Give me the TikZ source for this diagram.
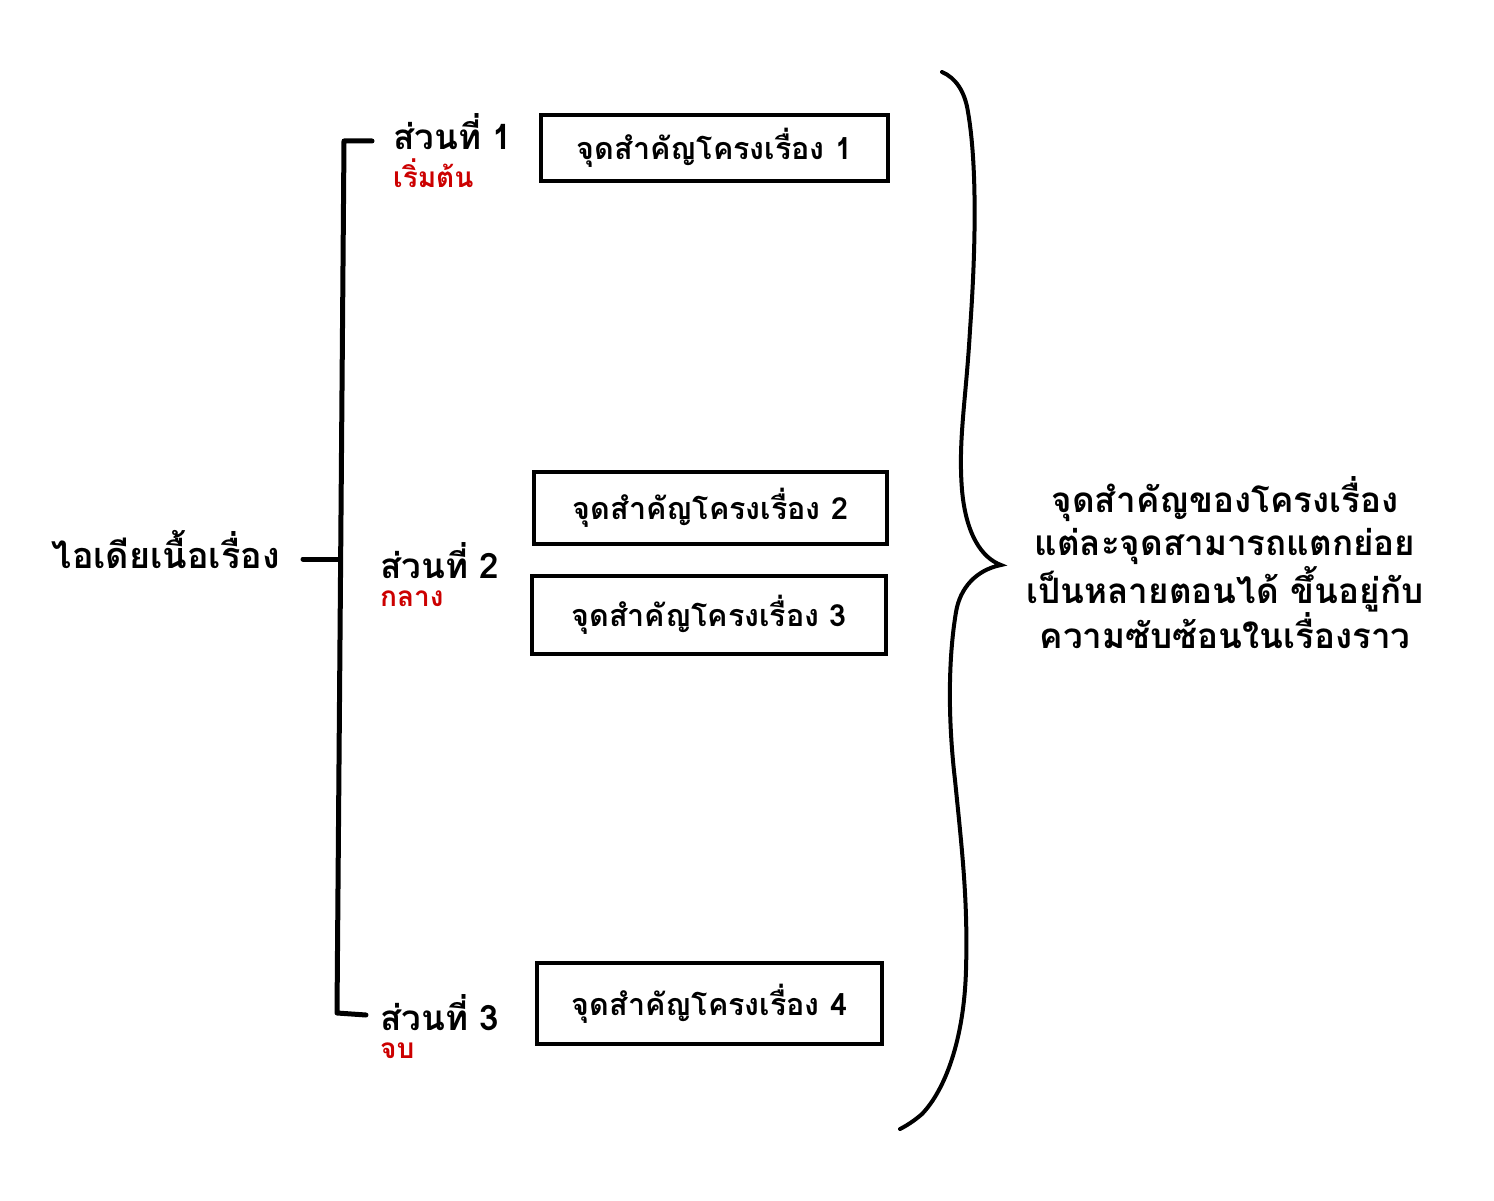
\documentclass[tikz,border=0pt]{standalone}
\usepackage{fontspec}
\setmainfont[Script=Thai]{Loma}
\usepackage{tikz}
\usetikzlibrary{calc,positioning}
\definecolor{rodfarg}{RGB}{204,0,0}
\tikzset{
    ruta/.style={
           rectangle,
           draw=black, line width=4pt,
           minimum width=347pt,
           minimum height=66pt,
           inner sep=0pt,
           font=\bfseries\fontsize{30.5}{36}\selectfont,
           text centered},
    del/.style={
           anchor=base west,
           inner sep=0pt,
           font=\bfseries\fontsize{35}{40}\selectfont},
    rod/.style={
           anchor=base west,
           inner sep=0pt,
           text=rodfarg,
           font=\bfseries\fontsize{28}{32}\selectfont},
    linje/.style={
           line width=5pt,
           line cap=round,
           line join=round},
    klammer/.style={
           line width=4pt,
           line cap=round}
}
\begin{document}
\begin{tikzpicture}[x=1pt, y=-1pt]
        \useasboundingbox (0,0) rectangle (1494,1201);

        % huvudide
        \node[anchor=base east, inner sep=0pt, font=\bfseries\fontsize{36}{42}\selectfont] (ide) at (280,568) {ไอเดียเนื้อเรื่อง};

        % delar
        \node[del] (d1) at (393,150) {ส่วนที่ 1};
        \node[rod] (r1) at ($(d1.base west)+(0,38)$) {เริ่มต้น};
        \node[del] (d2) at (380,578) {ส่วนที่ 2};
        \node[rod] (r2) at ($(d2.base west)+(0,28)$) {กลาง};
        \node[del] (d3) at (380,1030) {ส่วนที่ 3};
        \node[rod] (r3) at ($(d3.base west)+(0,28)$) {จบ};

        % rutor
        \node[ruta] (p1) at (714.5,148) {จุดสำคัญโครงเรื่อง 1};
        \node[ruta, minimum width=353pt, minimum height=72pt] (p2) at (710.5,508) {จุดสำคัญโครงเรื่อง 2};
        \node[ruta, minimum width=354pt, minimum height=78pt] (p3) at (709,615) {จุดสำคัญโครงเรื่อง 3};
        \node[ruta, minimum width=345pt, minimum height=81pt] (p4) at (709.5,1003.5) {จุดสำคัญโครงเรื่อง 4};

        % hakparentes
        \coordinate (h0) at (303,559);
        \coordinate (hm) at (339,559);
        \coordinate (ht) at (344,141);
        \coordinate (ht1) at (372,141);
        \coordinate (hb) at (337,1013);
        \coordinate (hb1) at (366,1015);
        \draw[linje] (ht1) -- (ht) -- (hb) -- (hb1);
        \draw[linje] (h0) -- (hm);

        % klammer
        \coordinate (k0) at (942,72);
        \coordinate (kspets) at (1001,565);
        \coordinate (k1) at (900,1129);
        \draw[klammer] (k0) .. controls (956,78) and (965,92) .. (968,112)
                .. controls (978,170) and (975,260) .. (970,330)
                .. controls (966,400) and (958,440) .. (962,490)
                .. controls (966,535) and (982,558) .. (kspets)
                .. controls (976,570) and (960,588) .. (956,612)
                .. controls (948,660) and (948,720) .. (955,780)
                .. controls (962,850) and (968,900) .. (966,970)
                .. controls (964,1040) and (945,1090) .. (922,1114)
                .. controls (914,1121) and (906,1126) .. (k1);

        \node[align=center, inner sep=0pt, font=\bfseries\fontsize{35}{43}\selectfont] (forklaring) at (1225,563) {
                จุดสำคัญของโครงเรื่อง\\
                แต่ละจุดสามารถแตกย่อย\\
                เป็นหลายตอนได้ ขึ้นอยู่กับ\\
                ความซับซ้อนในเรื่องราว};
    \end{tikzpicture}
\end{document}
